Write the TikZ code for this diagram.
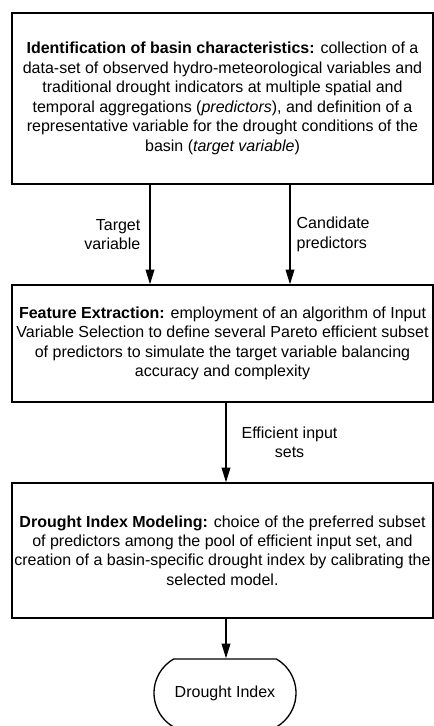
\documentclass[tikz,border=0pt]{standalone}
\usepackage{fontspec}
\setmainfont{Liberation Sans}
\usetikzlibrary{arrows.meta,shapes.misc}

\begin{document}
\begin{tikzpicture}[x=0.75pt, y=-0.75pt,
  stage/.style={draw, line width=1pt, align=center, inner sep=0pt,
    font=\fontsize{12}{14.6}\selectfont},
  terminal/.style={stage, rounded rectangle, rounded rectangle arc length=120},
  flow/.style={-{Triangle[length=11pt,width=6.5pt]}, line width=1pt},
  lbl/.style={inner sep=0pt, font=\fontsize{12}{14.6}\selectfont}]
  \useasboundingbox (0,0) rectangle (433,726);

  % 1. Basin characteristics
  \node[stage, minimum width=315.75pt, minimum height=128.25pt] (ident) at (222.5,98.5)
    {\textbf{Identification of basin characteristics:} collection of a\\
     data-set of observed hydro-meteorological variables and\\
     traditional drought indicators at multiple spatial and\\
     temporal aggregations (\textit{predictors}), and definition of a\\
     representative variable for the drought conditions of the\\
     basin (\textit{target variable})};

  % 2. Feature extraction
  \node[stage, minimum width=315.75pt, minimum height=87.75pt] (feat) at (222.5,343.5)
    {\textbf{Feature Extraction:} employment of an algorithm of Input\\
     Variable Selection to define several Pareto efficient subset\\
     of predictors to simulate the target variable balancing\\
     accuracy and complexity};

  % 3. Drought index modeling
  \node[stage, minimum width=315.75pt, minimum height=101.25pt] (model) at (222.5,550.5)
    {\textbf{Drought Index Modeling:} choice of the preferred subset\\
     of predictors among the pool of efficient input set, and\\
     creation of a basin-specific drought index by calibrating the\\
     selected model.};

  % 4. Output
  \node[terminal, minimum width=106.5pt, minimum height=51pt] (index) at (225,693) {Drought Index};

  % connectors
  \coordinate (tv) at (150,0);
  \coordinate (cp) at (290,0);
  \coordinate (ax) at (226,0);
  \draw[flow] (ident.south -| tv) -- node[lbl, align=right, left=6.75pt] {Target\\variable} (feat.north -| tv);
  \draw[flow] (ident.south -| cp) -- node[lbl, align=left, right=4.5pt] {Candidate\\predictors} (feat.north -| cp);
  \draw[flow] (feat.south -| ax) -- node[lbl, align=center, right=11.25pt] {Efficient input\\sets} (model.north -| ax);
  \draw[flow] (model.south -| ax) -- (index.north -| ax);
\end{tikzpicture}
\end{document}
